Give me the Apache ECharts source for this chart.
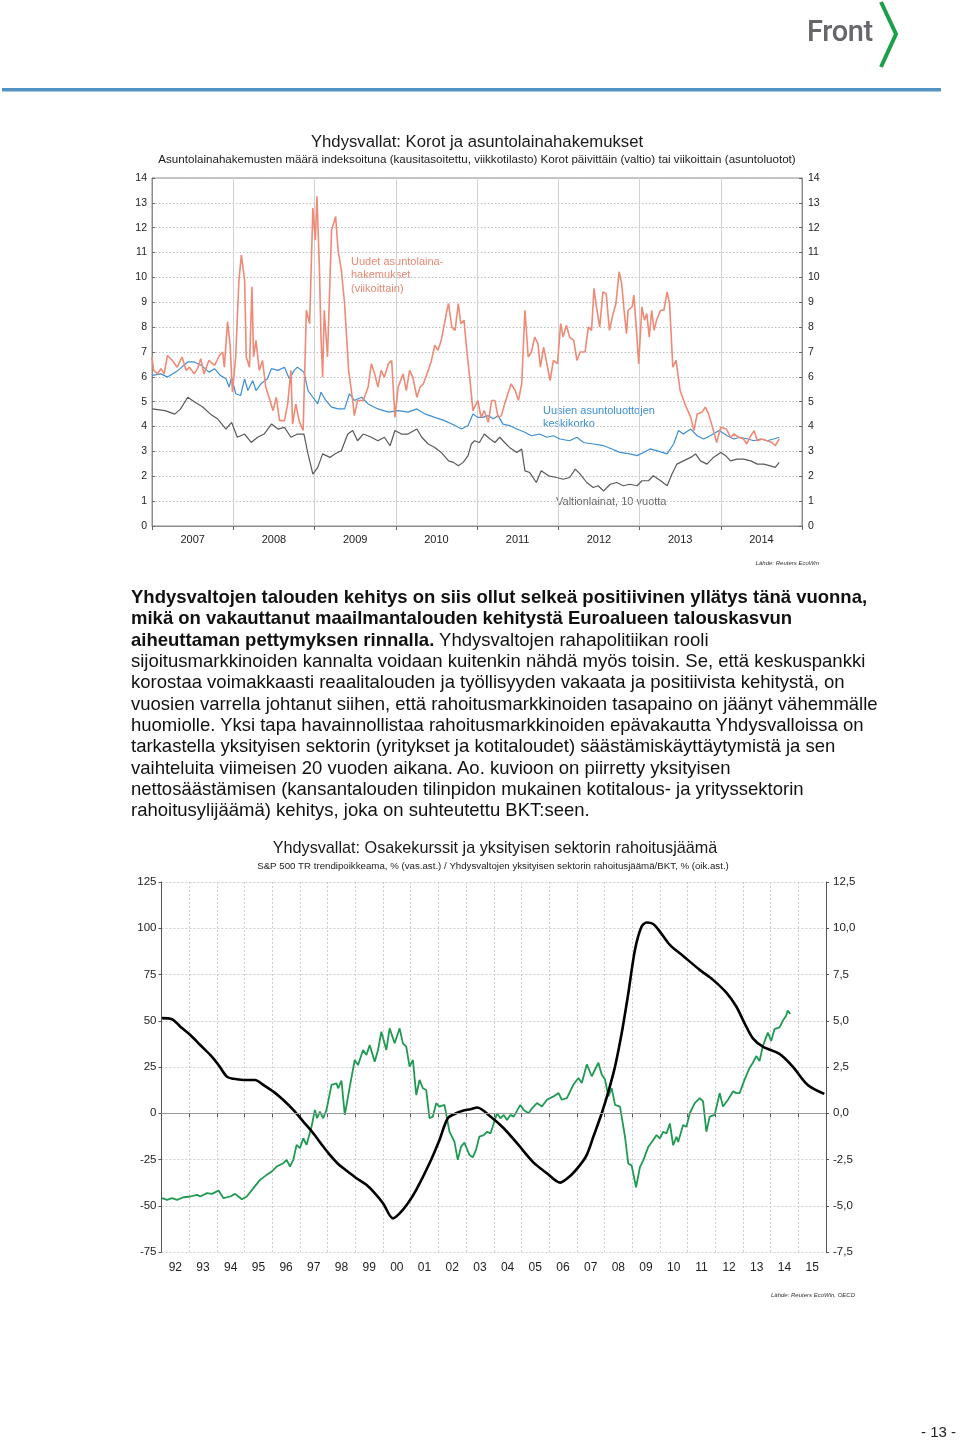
<!DOCTYPE html>
<html><head><meta charset="utf-8">
<script src="https://cdn.jsdelivr.net/npm/echarts@6/dist/echarts.min.js"></script>
<style>
html,body{margin:0;padding:0;background:#fff;}
body{width:960px;height:1440px;position:relative;overflow:hidden;font-family:"Liberation Sans",Arial,sans-serif;}
#chart{position:absolute;left:0;top:0;width:960px;height:1440px;}
.ov{position:absolute;pointer-events:none;}
#para{left:131px;top:586px;font-size:18.5px;line-height:21.35px;color:#111;white-space:nowrap;}
#para b{font-weight:bold;}
</style></head>
<body>
<div id="chart"></div>
<div class="ov" style="left:807px;top:14px;font-family:Roboto,'Liberation Sans',Arial;font-weight:500;font-size:29px;color:#66676a;letter-spacing:-0.4px;">Front</div>
<svg class="ov" style="left:0;top:0" width="960" height="100">
<polyline points="881,2 896,34 881,67" fill="none" stroke="#1a9f4a" stroke-width="4"/>
<rect x="2" y="88" width="939" height="3.5" fill="#5592c4"/>
<polyline points="91,589 96,595.5 91,602" fill="none" stroke="#5b8fc8" stroke-width="1.3"/>
</svg>
<div id="para" class="ov"><b>Yhdysvaltojen talouden kehitys on siis ollut selkeä positiivinen yllätys tänä vuonna,</b><br><b>mikä on vakauttanut maailmantalouden kehitystä Euroalueen talouskasvun</b><br><b>aiheuttaman pettymyksen rinnalla.</b> Yhdysvaltojen rahapolitiikan rooli<br>sijoitusmarkkinoiden kannalta voidaan kuitenkin nähdä myös toisin. Se, että keskuspankki<br>korostaa voimakkaasti reaalitalouden ja työllisyyden vakaata ja positiivista kehitystä, on<br>vuosien varrella johtanut siihen, että rahoitusmarkkinoiden tasapaino on jäänyt vähemmälle<br>huomiolle. Yksi tapa havainnollistaa rahoitusmarkkinoiden epävakautta Yhdysvalloissa on<br>tarkastella yksityisen sektorin (yritykset ja kotitaloudet) säästämiskäyttäytymistä ja sen<br>vaihteluita viimeisen 20 vuoden aikana. Ao. kuvioon on piirretty yksityisen<br>nettosäästämisen (kansantalouden tilinpidon mukainen kotitalous- ja yrityssektorin<br>rahoitusylijäämä) kehitys, joka on suhteutettu BKT:seen.</div>
<div class="ov" style="left:921px;top:1423px;font-size:15px;color:#222;">- 13 -</div>
<script>
// ---- Chart 1 data ----
const years1 = ['2007','2008','2009','2010','2011','2012','2013','2014'];
const ticks1 = [0,1,2,3,4,5,6,7,8,9,10,11,12,13,14];
const mortgageApps = [
[2007.00,6.8],[2007.02,6.26],[2007.07,6.12],[2007.11,6.33],[2007.15,6.12],[2007.19,6.86],[2007.25,6.66],[2007.31,6.39],[2007.37,6.8],[2007.42,6.26],[2007.46,6.39],[2007.52,6.12],[2007.56,6.33],[2007.60,6.73],[2007.64,6.12],[2007.70,6.66],[2007.77,6.46],[2007.83,6.86],[2007.87,7.0],[2007.89,6.39],[2007.93,8.21],[2007.96,7.34],[2007.99,5.38],[2008.03,6.8],[2008.07,9.89],[2008.10,10.9],[2008.14,9.89],[2008.16,6.8],[2008.20,6.39],[2008.23,9.62],[2008.25,6.8],[2008.28,7.47],[2008.32,6.26],[2008.36,6.66],[2008.40,5.59],[2008.44,5.18],[2008.49,4.64],[2008.53,5.18],[2008.57,4.24],[2008.63,4.24],[2008.67,4.91],[2008.71,6.26],[2008.73,4.1],[2008.77,4.91],[2008.81,4.24],[2008.86,3.84],[2008.90,8.68],[2008.94,8.14],[2008.98,12.79],[2009.01,11.5],[2009.03,13.26],[2009.06,10.43],[2009.08,7.6],[2009.10,5.99],[2009.12,8.68],[2009.16,6.8],[2009.21,11.9],[2009.26,12.45],[2009.29,11.1],[2009.33,10.3],[2009.37,8.95],[2009.42,6.26],[2009.47,5.05],[2009.49,4.44],[2009.53,5.05],[2009.60,5.05],[2009.66,5.59],[2009.70,6.53],[2009.74,6.12],[2009.78,5.59],[2009.82,6.26],[2009.86,5.99],[2009.91,6.53],[2009.95,6.66],[2009.99,4.37],[2010.03,5.59],[2010.09,6.12],[2010.13,5.45],[2010.17,6.26],[2010.21,5.99],[2010.26,5.18],[2010.30,5.59],[2010.34,5.72],[2010.40,6.26],[2010.44,6.66],[2010.48,7.27],[2010.52,7.07],[2010.56,7.47],[2010.63,8.68],[2010.65,8.95],[2010.69,8.0],[2010.73,7.87],[2010.77,8.95],[2010.80,8.14],[2010.84,8.28],[2010.87,7.2],[2010.91,5.99],[2010.95,4.64],[2011.01,5.05],[2011.05,4.37],[2011.09,4.64],[2011.14,4.17],[2011.18,5.05],[2011.22,5.05],[2011.26,4.37],[2011.30,4.44],[2011.34,4.91],[2011.38,5.32],[2011.42,5.72],[2011.47,5.45],[2011.51,5.05],[2011.55,5.72],[2011.59,8.68],[2011.63,6.8],[2011.67,7.0],[2011.71,7.6],[2011.75,7.34],[2011.78,6.39],[2011.82,7.2],[2011.86,6.53],[2011.90,5.85],[2011.94,6.66],[2011.99,6.53],[2012.03,8.14],[2012.06,7.6],[2012.10,8.08],[2012.14,7.6],[2012.19,7.47],[2012.23,6.66],[2012.27,7.0],[2012.33,7.0],[2012.37,8.0],[2012.41,7.87],[2012.44,9.56],[2012.47,8.82],[2012.51,8.0],[2012.55,9.42],[2012.59,9.35],[2012.63,7.87],[2012.67,8.48],[2012.71,8.95],[2012.75,10.23],[2012.78,9.76],[2012.81,8.68],[2012.84,7.74],[2012.86,8.68],[2012.91,8.82],[2012.93,9.29],[2012.96,8.0],[2012.99,6.53],[2013.03,8.82],[2013.06,8.28],[2013.09,8.55],[2013.12,7.6],[2013.15,8.68],[2013.18,7.87],[2013.21,8.28],[2013.26,8.68],[2013.30,8.68],[2013.34,9.42],[2013.37,8.95],[2013.41,6.39],[2013.45,6.66],[2013.50,5.45],[2013.56,4.91],[2013.63,4.37],[2013.67,3.84],[2013.71,4.51],[2013.77,4.58],[2013.81,4.78],[2013.85,4.51],[2013.91,3.84],[2013.95,3.36],[2014.00,3.97],[2014.07,3.9],[2014.12,3.57],[2014.16,3.7],[2014.22,3.57],[2014.28,3.5],[2014.32,3.3],[2014.36,3.57],[2014.41,3.84],[2014.45,3.43],[2014.51,3.5],[2014.57,3.43],[2014.63,3.36],[2014.67,3.23],[2014.72,3.5]
];
const mortgageRate = [
[2007.00,6.06],[2007.11,6.12],[2007.19,5.99],[2007.32,6.26],[2007.44,6.6],[2007.52,6.6],[2007.61,6.46],[2007.70,6.19],[2007.77,6.33],[2007.84,6.06],[2007.91,5.92],[2007.95,5.59],[2007.98,5.99],[2008.03,5.32],[2008.09,5.25],[2008.14,5.92],[2008.18,5.45],[2008.24,5.85],[2008.28,5.45],[2008.34,5.72],[2008.42,5.92],[2008.47,6.33],[2008.55,6.26],[2008.63,6.39],[2008.69,5.92],[2008.75,6.26],[2008.79,6.39],[2008.87,6.19],[2008.92,5.45],[2008.98,5.18],[2009.04,4.91],[2009.08,5.38],[2009.14,5.05],[2009.21,4.78],[2009.29,4.71],[2009.37,4.71],[2009.43,5.32],[2009.49,5.05],[2009.58,5.18],[2009.66,4.91],[2009.78,4.71],[2009.91,4.58],[2010.03,4.64],[2010.15,4.58],[2010.26,4.71],[2010.36,4.51],[2010.48,4.37],[2010.60,4.24],[2010.73,4.04],[2010.81,3.9],[2010.89,4.04],[2010.95,4.51],[2011.01,4.37],[2011.07,4.37],[2011.14,4.44],[2011.20,4.31],[2011.26,4.44],[2011.32,4.1],[2011.40,4.04],[2011.49,3.9],[2011.59,3.77],[2011.67,3.63],[2011.77,3.7],[2011.86,3.57],[2011.94,3.63],[2012.02,3.5],[2012.14,3.43],[2012.23,3.57],[2012.31,3.36],[2012.43,3.3],[2012.56,3.23],[2012.66,3.1],[2012.76,2.96],[2012.88,2.9],[2012.97,2.83],[2013.05,2.96],[2013.13,3.1],[2013.21,3.03],[2013.34,2.9],[2013.42,3.3],[2013.48,3.84],[2013.54,3.7],[2013.63,3.9],[2013.71,3.63],[2013.79,3.5],[2013.87,3.63],[2013.98,3.84],[2014.08,3.63],[2014.16,3.5],[2014.24,3.57],[2014.33,3.5],[2014.41,3.43],[2014.49,3.5],[2014.57,3.43],[2014.65,3.5],[2014.72,3.57]
];
const treasury10y = [
[2007.00,4.71],[2007.16,4.64],[2007.28,4.5],[2007.35,4.7],[2007.44,5.18],[2007.52,5.0],[2007.62,4.8],[2007.72,4.5],[2007.81,4.3],[2007.91,3.9],[2007.98,4.17],[2008.05,3.57],[2008.14,3.7],[2008.22,3.36],[2008.30,3.57],[2008.38,3.7],[2008.47,4.1],[2008.55,3.9],[2008.63,3.97],[2008.71,3.57],[2008.79,3.7],[2008.87,3.7],[2008.92,2.9],[2008.98,2.09],[2009.04,2.36],[2009.10,2.9],[2009.19,2.76],[2009.25,2.9],[2009.33,3.03],[2009.41,3.7],[2009.47,3.84],[2009.53,3.43],[2009.60,3.7],[2009.70,3.57],[2009.78,3.43],[2009.86,3.57],[2009.93,3.23],[2009.99,3.84],[2010.07,3.7],[2010.15,3.7],[2010.26,3.9],[2010.32,3.57],[2010.40,3.3],[2010.48,3.16],[2010.56,2.96],[2010.65,2.62],[2010.71,2.56],[2010.77,2.42],[2010.83,2.56],[2010.89,2.83],[2010.93,3.3],[2010.97,3.43],[2011.03,3.36],[2011.09,3.7],[2011.16,3.5],[2011.22,3.36],[2011.28,3.57],[2011.34,3.36],[2011.40,3.16],[2011.49,2.96],[2011.55,3.1],[2011.59,2.22],[2011.65,2.15],[2011.73,1.75],[2011.79,2.22],[2011.88,2.02],[2011.98,1.95],[2012.06,1.88],[2012.14,1.95],[2012.21,2.29],[2012.27,2.09],[2012.35,1.75],[2012.43,1.55],[2012.49,1.62],[2012.56,1.41],[2012.64,1.68],[2012.72,1.75],[2012.80,1.62],[2012.88,1.68],[2012.97,1.62],[2013.03,1.82],[2013.11,1.82],[2013.17,2.02],[2013.26,1.82],[2013.34,1.62],[2013.40,2.09],[2013.46,2.49],[2013.54,2.62],[2013.63,2.76],[2013.69,2.9],[2013.75,2.62],[2013.83,2.49],[2013.91,2.76],[2014.00,2.96],[2014.06,2.83],[2014.12,2.62],[2014.20,2.69],[2014.28,2.69],[2014.37,2.62],[2014.45,2.49],[2014.53,2.49],[2014.61,2.42],[2014.67,2.36],[2014.72,2.56]
];
// ---- Chart 2 data ----
const years2 = ['92','93','94','95','96','97','98','99','00','01','02','03','04','05','06','07','08','09','10','11','12','13','14','15'];
const spDeviation = [
[1992.02,-45.9],[1992.20,-46.8],[1992.38,-45.9],[1992.56,-46.8],[1992.80,-45.4],[1993.04,-45.0],[1993.28,-44.1],[1993.40,-45.0],[1993.64,-43.2],[1993.82,-43.6],[1994.06,-41.8],[1994.24,-45.9],[1994.48,-45.0],[1994.66,-43.6],[1994.78,-45.0],[1994.90,-46.5],[1995.08,-45.0],[1995.32,-40.5],[1995.56,-36.0],[1995.80,-33.3],[1995.98,-31.5],[1996.16,-28.8],[1996.40,-27.0],[1996.52,-25.2],[1996.64,-28.8],[1996.76,-25.2],[1996.88,-17.1],[1997.00,-18.9],[1997.12,-13.5],[1997.24,-17.1],[1997.42,-7.2],[1997.54,1.8],[1997.62,-2.7],[1997.72,0.9],[1997.84,-2.7],[1997.96,1.8],[1998.14,15.3],[1998.32,16.2],[1998.38,13.5],[1998.50,17.7],[1998.62,-0.9],[1998.80,14.4],[1998.98,28.8],[1999.10,26.1],[1999.28,34.2],[1999.40,31.5],[1999.52,36.9],[1999.70,27.9],[1999.82,34.2],[1999.94,44.1],[2000.12,34.2],[2000.24,45.9],[2000.42,37.8],[2000.60,45.9],[2000.72,37.8],[2000.84,36.0],[2000.96,25.2],[2001.08,28.8],[2001.20,9.9],[2001.32,18.0],[2001.44,13.5],[2001.56,12.6],[2001.68,-2.7],[2001.80,-1.8],[2001.92,5.4],[2002.04,3.6],[2002.22,4.5],[2002.40,-9.9],[2002.58,-15.3],[2002.70,-25.2],[2002.82,-18.0],[2002.94,-15.9],[2003.12,-22.5],[2003.24,-23.8],[2003.36,-19.8],[2003.48,-12.6],[2003.64,-11.8],[2003.76,-10.0],[2003.88,-10.9],[2004.00,-5.5],[2004.12,0],[2004.24,-2.7],[2004.36,-0.9],[2004.48,-3.6],[2004.60,-0.9],[2004.72,-1.8],[2004.96,4.5],[2005.08,1.8],[2005.26,0],[2005.38,2.7],[2005.56,5.5],[2005.74,3.6],[2005.92,7.3],[2006.16,9.1],[2006.34,10.9],[2006.46,7.3],[2006.64,8.2],[2006.88,15.5],[2007.06,19.1],[2007.18,16.4],[2007.36,26.4],[2007.54,20.0],[2007.78,27.3],[2007.90,20.9],[2008.02,18.2],[2008.14,9.1],[2008.26,13.6],[2008.38,4.5],[2008.56,3.6],[2008.74,-12.7],[2008.86,-27.3],[2008.98,-28.2],[2009.14,-40.0],[2009.28,-29.1],[2009.40,-25.5],[2009.58,-18.2],[2009.76,-14.5],[2009.88,-11.8],[2010.00,-13.6],[2010.12,-10.0],[2010.24,-10.9],[2010.36,-5.5],[2010.48,-17.3],[2010.60,-12.7],[2010.66,-15.5],[2010.84,-6.4],[2010.96,-7.3],[2011.08,0],[2011.26,5.5],[2011.44,8.2],[2011.56,6.4],[2011.68,-10.0],[2011.80,-1.8],[2011.98,-0.9],[2012.16,10.9],[2012.28,3.6],[2012.46,7.3],[2012.64,11.8],[2012.76,10.9],[2012.88,10.9],[2013.06,18.2],[2013.24,24.5],[2013.36,27.3],[2013.48,30.9],[2013.60,28.2],[2013.72,36.4],[2013.90,43.6],[2014.02,39.1],[2014.14,45.5],[2014.32,46.4],[2014.44,50.0],[2014.56,52.7],[2014.62,55.5],[2014.71,53.6]
];
const privateBalance = [
[1992.02,5.14],[1992.38,5.08],[1992.68,4.68],[1993.04,4.23],[1993.40,3.69],[1993.76,3.15],[1994.06,2.61],[1994.36,1.98],[1994.60,1.86],[1994.96,1.80],[1995.38,1.80],[1995.68,1.53],[1996.04,1.17],[1996.40,0.72],[1996.76,0.18],[1997.12,-0.45],[1997.48,-1.08],[1997.84,-1.80],[1998.08,-2.25],[1998.38,-2.74],[1998.68,-3.10],[1999.04,-3.51],[1999.40,-3.87],[1999.70,-4.32],[2000.00,-4.86],[2000.36,-5.68],[2000.60,-5.41],[2000.90,-4.86],[2001.20,-4.14],[2001.68,-2.70],[2002.04,-1.44],[2002.34,-0.27],[2002.64,0.0],[2002.88,0.14],[2003.16,0.22],[2003.40,0.31],[2003.88,-0.18],[2004.36,-0.81],[2004.84,-1.62],[2005.44,-2.67],[2005.92,-3.24],[2006.40,-3.75],[2006.76,-3.39],[2007.12,-2.79],[2007.36,-2.25],[2007.60,-1.26],[2007.90,0.0],[2008.14,1.17],[2008.38,2.52],[2008.62,4.32],[2008.86,6.49],[2009.10,8.83],[2009.34,10.09],[2009.52,10.31],[2009.76,10.23],[2010.00,9.82],[2010.36,9.10],[2010.84,8.50],[2011.44,7.75],[2011.92,7.21],[2012.40,6.52],[2012.76,5.77],[2013.06,4.86],[2013.36,4.05],[2013.72,3.60],[2014.32,3.21],[2014.80,2.52],[2015.34,1.53],[2015.94,1.05]
];

const FF = '"Liberation Sans", Arial, sans-serif';
const chart = echarts.init(document.getElementById('chart'));
const comma = v => v.toFixed(1).replace('.', ',');
chart.setOption({
  animation: false,
  grid: [
    {left:152, right:158, top:178, height:348, show:true, borderColor:'#8c8c8c', borderWidth:1, backgroundColor:'transparent'},
    {left:161.5, right:134, top:882, height:370}
  ],
  xAxis: [
    {type:'category', gridIndex:0, data:years1, boundaryGap:true,
     axisLine:{show:true, lineStyle:{color:'#8c8c8c'}},
     axisTick:{show:true, interval:0, length:4, inside:false, lineStyle:{color:'#666'}},
     axisLabel:{interval:0, margin:8, fontSize:11, color:'#222', fontFamily:FF},
     splitLine:{show:true, interval:0, lineStyle:{color:'#d2d2d2', width:1}}},
    {type:'value', gridIndex:0, min:2007, max:2015, show:false},
    {type:'category', gridIndex:1, data:years2, boundaryGap:true,
     axisLine:{show:true, lineStyle:{color:'#555'}},
     axisTick:{show:true, interval:0, length:4, lineStyle:{color:'#555'}},
     axisLabel:{interval:0, margin:10, fontSize:12, color:'#222', fontFamily:FF},
     splitLine:{show:true, interval:0, lineStyle:{color:'#cfcfcf', type:[2,2], width:1}}},
    {type:'value', gridIndex:1, min:1992, max:2016, show:false}
  ],
  yAxis: [
    {type:'value', gridIndex:0, position:'left', min:0, max:14, interval:1,
     axisLine:{show:true, lineStyle:{color:'#8c8c8c'}},
     axisTick:{show:true, inside:true, length:3, lineStyle:{color:'#666'}},
     axisLabel:{margin:5, fontSize:10.5, color:'#222', fontFamily:FF},
     splitLine:{show:true, lineStyle:{color:'#bdbdbd', type:[1.5,2], width:1}}},
    {type:'value', gridIndex:0, position:'right', min:0, max:14, interval:1,
     axisLine:{show:true, lineStyle:{color:'#8c8c8c'}},
     axisTick:{show:true, inside:true, length:3, lineStyle:{color:'#666'}},
     axisLabel:{margin:6, fontSize:10.5, color:'#222', fontFamily:FF},
     splitLine:{show:false}},
    {type:'value', gridIndex:1, position:'left', min:-75, max:125, interval:25,
     axisLine:{show:true, lineStyle:{color:'#555'}},
     axisTick:{show:true, length:3, lineStyle:{color:'#555'}},
     axisLabel:{margin:5, fontSize:11.5, color:'#222', fontFamily:FF},
     splitLine:{show:true, lineStyle:{color:'#cfcfcf', type:[2,2], width:1}}},
    {type:'value', gridIndex:1, position:'right', min:-7.5, max:12.5, interval:2.5,
     axisLine:{show:true, lineStyle:{color:'#555'}},
     axisTick:{show:true, length:3, lineStyle:{color:'#555'}},
     axisLabel:{margin:7, fontSize:11.5, color:'#222', fontFamily:FF, formatter:comma},
     splitLine:{show:false}}
  ],
  series: [
    {type:'line', xAxisIndex:1, yAxisIndex:0, data:treasury10y, showSymbol:false, lineStyle:{color:'#5a5a5a', width:1.2}},
    {type:'line', xAxisIndex:1, yAxisIndex:0, data:mortgageRate, showSymbol:false, lineStyle:{color:'#3d8fd4', width:1.2}},
    {type:'line', xAxisIndex:1, yAxisIndex:0, data:mortgageApps, showSymbol:false, lineStyle:{color:'#ef8a77', width:1.6}},
    {type:'line', xAxisIndex:3, yAxisIndex:2, data:spDeviation, showSymbol:false, lineStyle:{color:'#1f9a52', width:1.8},
     markLine:{silent:true, symbol:'none', label:{show:false}, lineStyle:{color:'#999', type:'solid', width:1}, data:[{yAxis:0}]}},
    {type:'line', xAxisIndex:3, yAxisIndex:3, data:privateBalance, showSymbol:false, smooth:0.3, lineStyle:{color:'#000', width:2.6}}
  ],
  graphic: [
    {type:'text', x:477, y:142, style:{text:'Yhdysvallat: Korot ja asuntolainahakemukset', font:'16.7px '+FF, fill:'#1a1a1a', textAlign:'center', textVerticalAlign:'middle'}},
    {type:'text', x:477, y:160, style:{text:'Asuntolainahakemusten määrä indeksoituna (kausitasoitettu, viikkotilasto) Korot päivittäin (valtio) tai viikoittain (asuntoluotot)', font:'11.6px '+FF, fill:'#1a1a1a', textAlign:'center', textVerticalAlign:'middle'}},
    {type:'text', x:351, y:255, style:{text:'Uudet asuntolaina-\nhakemukset\n(viikoittain)', font:'11px '+FF, lineHeight:13.5, fill:'#ea8874', textAlign:'left', textVerticalAlign:'top'}},
    {type:'text', x:543, y:404, style:{text:'Uusien asuntoluottojen\nkeskikorko', font:'11px '+FF, lineHeight:13.5, fill:'#3d8fd4', textAlign:'left', textVerticalAlign:'top'}},
    {type:'text', x:556, y:502, style:{text:'Valtionlainat, 10 vuotta', font:'11px '+FF, fill:'#666', textAlign:'left', textVerticalAlign:'middle'}},
    {type:'text', x:819, y:563, style:{text:'Lähde: Reuters EcoWin', font:'italic 6px '+FF, fill:'#333', textAlign:'right', textVerticalAlign:'middle'}},
    {type:'text', x:495, y:849, style:{text:'Yhdysvallat: Osakekurssit ja yksityisen sektorin rahoitusjäämä', font:'16.2px '+FF, fill:'#1a1a1a', textAlign:'center', textVerticalAlign:'middle'}},
    {type:'text', x:493, y:866, style:{text:'S&P 500 TR trendipoikkeama, % (vas.ast.) / Yhdysvaltojen yksityisen sektorin rahoitusjäämä/BKT, % (oik.ast.)', font:'9.7px '+FF, fill:'#1a1a1a', textAlign:'center', textVerticalAlign:'middle'}},
    {type:'text', x:855, y:1295, style:{text:'Lähde: Reuters EcoWin, OECD', font:'italic 6px '+FF, fill:'#333', textAlign:'right', textVerticalAlign:'middle'}}
  ]
});
</script>
</body></html>
